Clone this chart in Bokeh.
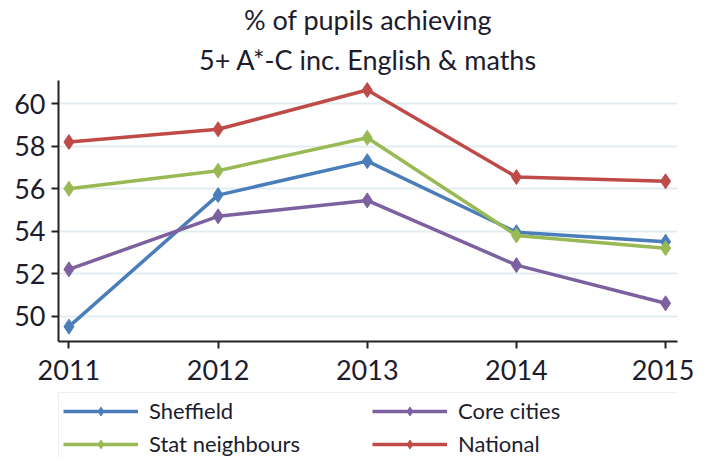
from bokeh.plotting import figure
from bokeh.layouts import column
from bokeh.models import Legend, LegendItem, Title, Range1d, FixedTicker
from bokeh.embed import file_html
from bokeh.resources import INLINE

years = [2011, 2012, 2013, 2014, 2015]
sheffield = [49.5, 55.7, 57.3, 53.95, 53.5]
stat_neighbours = [56.0, 56.85, 58.4, 53.8, 53.2]
core_cities = [52.2, 54.7, 55.45, 52.4, 50.6]
national = [58.2, 58.8, 60.65, 56.55, 56.35]
y_ticks = [50, 52, 54, 56, 58, 60]
title_lines = ["% of pupils achieving", "5+ A*-C inc. English & maths"]
legend_order = ["Sheffield", "Stat neighbours", "Core cities", "National"]

FONT = "Lato"
TXT = "#1c1c2c"

series = [("Sheffield", sheffield, "#4a7ebb"),
          ("Stat neighbours", stat_neighbours, "#98b954"),
          ("Core cities", core_cities, "#7d60a0"),
          ("National", national, "#be4b48")]

# ---- main chart
p = figure(width=694, height=392, output_backend="svg", toolbar_location=None,
           x_range=Range1d(2010.93, 2015.08), y_range=Range1d(48.8, 61.1),
           min_border_left=49, min_border_right=17, min_border_bottom=51,
           background_fill_color="white", border_fill_color="white")
p.outline_line_color = None

for t, so in [(title_lines[1], 9), (title_lines[0], 1)]:
    p.add_layout(Title(text=t, align="center", text_font=FONT, text_font_size="27px",
                       text_font_style="normal", text_color=TXT, standoff=so), "above")

for name, vals, col in series:
    p.line(years, vals, line_color=col, line_width=3.5)
    p.scatter(years, vals, marker="diamond", size=15, fill_color=col, line_color=col)

p.xaxis.ticker = FixedTicker(ticks=years)
p.yaxis.ticker = FixedTicker(ticks=y_ticks)
for ax in (p.xaxis[0], p.yaxis[0]):
    ax.axis_line_color = "#222222"
    ax.axis_line_width = 2
    ax.major_tick_line_color = "#222222"
    ax.major_tick_line_width = 2
    ax.major_tick_out = 7
    ax.major_tick_in = 0
    ax.minor_tick_line_color = None
    ax.major_label_text_font = FONT
    ax.major_label_text_font_size = "27px"
    ax.major_label_text_color = TXT
p.xaxis.major_label_standoff = 11
p.yaxis.major_label_standoff = 6

p.xgrid.grid_line_color = None
p.ygrid.grid_line_color = "#e3edf1"
p.ygrid.grid_line_width = 2

# ---- legend strip (own small figure, glyphs kept out of its view)
lf = figure(width=694, height=66, output_backend="svg", toolbar_location=None,
            x_range=Range1d(2010.93, 2015.08), y_range=Range1d(0, 1),
            min_border_left=58, min_border_right=0, min_border_top=0, min_border_bottom=0,
            background_fill_color="white", border_fill_color="white")
lf.outline_line_color = None
lf.axis.visible = False
lf.grid.visible = False
items = {}
for name, vals, col in series:
    l = lf.line(years, vals, line_color=col, line_width=3.5)
    s = lf.scatter(years, vals, marker="diamond", size=12, fill_color=col, line_color=col)
    items[name] = [l, s]

legend = Legend(items=[LegendItem(label=n, renderers=items[n]) for n in legend_order],
                ncols=2, location="top_left")
legend.label_text_font = FONT
legend.label_text_font_size = "22px"
legend.label_text_color = TXT
legend.glyph_width = 75
legend.glyph_height = 22
legend.label_height = 22
legend.label_standoff = 11
legend.label_width = 217
legend.spacing = 6
legend.padding = 4
legend.margin = 0
legend.border_line_color = "#d3e3ea"
legend.border_line_width = 1.5
legend.background_fill_color = "white"
legend.background_fill_alpha = 1
lf.add_layout(legend, "center")

layout = column(p, lf, spacing=0)
open("out.html", "w").write(file_html(layout, INLINE))
